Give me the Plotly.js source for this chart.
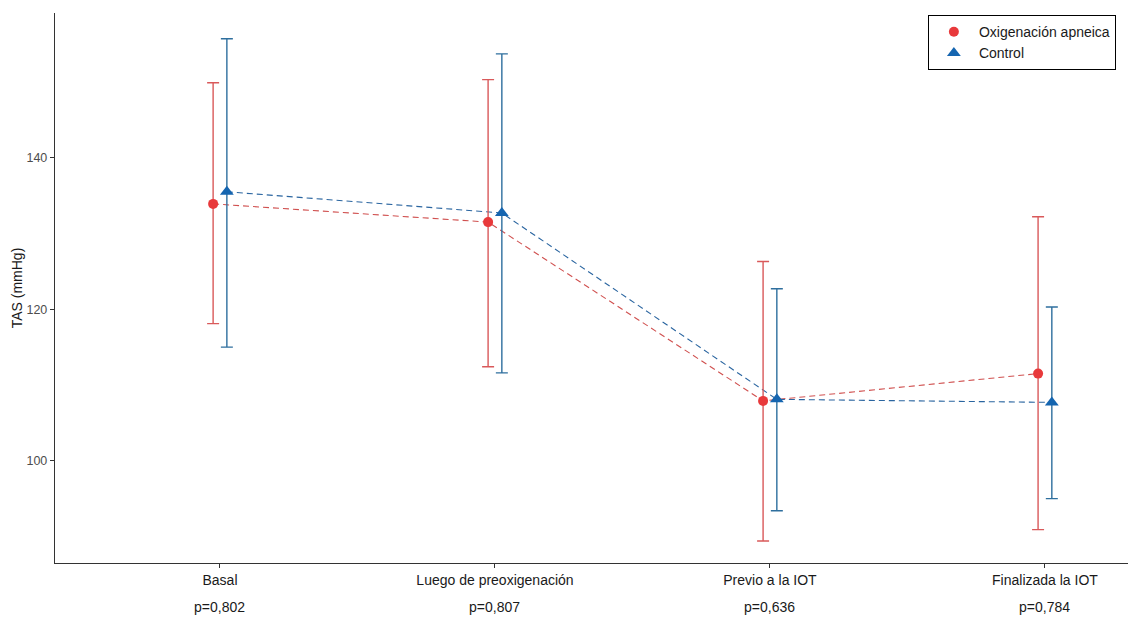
<!DOCTYPE html>
<html>
<head>
<meta charset="utf-8">
<script src="https://cdn.plot.ly/plotly-3.0.1.min.js"></script>
<style>html,body{margin:0;padding:0;background:#fff;}#chart{width:1128px;height:619px;}</style>
</head>
<body>
<div id="chart"></div>
<script>
const categories = ["Basal", "Luego de preoxigenación", "Previo a la IOT", "Finalizada la IOT"];
const pValues = ["p=0,802", "p=0,807", "p=0,636", "p=0,784"];

const oxiMean  = [133.9, 131.5, 107.9, 111.5];
const oxiLower = [118.1, 112.4, 89.4, 90.9];
const oxiUpper = [149.9, 150.3, 126.3, 132.2];

const ctrlMean  = [135.5, 132.7, 108.1, 107.7];
const ctrlLower = [115.0, 111.6, 93.4, 95.0];
const ctrlUpper = [155.7, 153.7, 122.7, 120.3];

const redC = "#E8393B", redBar = "#D9595A";
const blueC = "#1565B0", blueBar = "#2E6F9E";
const dodge = 0.025;

const idx = categories.map((c, i) => i + 1);
const xOxi = idx.map(v => v - dodge);
const xCtrl = idx.map(v => v + dodge);

const traces = [
  {x: xOxi, y: oxiMean, mode: "lines", line: {color: "#D0504F", dash: "6px,4px", width: 1.1}, showlegend: false, hoverinfo: "skip"},
  {x: xCtrl, y: ctrlMean, mode: "lines", line: {color: "#2A65A0", dash: "6px,4px", width: 1.1}, showlegend: false, hoverinfo: "skip"},
  {x: xOxi, y: oxiMean, mode: "markers", name: "Oxigenación apneica",
   marker: {symbol: "circle", size: 10, color: redC},
   error_y: {type: "data", symmetric: false,
     array: oxiUpper.map((u, i) => u - oxiMean[i]),
     arrayminus: oxiLower.map((l, i) => oxiMean[i] - l),
     color: redBar, thickness: 1.4, width: 6}},
  {x: xCtrl, y: ctrlMean, mode: "markers", name: "Control",
   marker: {symbol: "triangle-up", size: 12, color: blueC},
   error_y: {type: "data", symmetric: false,
     array: ctrlUpper.map((u, i) => u - ctrlMean[i]),
     arrayminus: ctrlLower.map((l, i) => ctrlMean[i] - l),
     color: blueBar, thickness: 1.4, width: 6}}
];

const annotations = pValues.map((p, i) => ({
  x: i + 1, xref: "x", y: 0, yref: "paper", yshift: -44, text: p, showarrow: false,
  font: {family: "Liberation Sans, Arial, sans-serif", size: 14, color: "#1a1a1a"}, xanchor: "center", yanchor: "middle"
}));

const layout = {
  width: 1128, height: 619,
  margin: {l: 55, r: 0, t: 13, b: 56},
  paper_bgcolor: "#fff", plot_bgcolor: "#fff",
  font: {family: "Liberation Sans, Arial, sans-serif", color: "#1a1a1a"},
  xaxis: {
    range: [0.4, 4.302], tickmode: "array", tickvals: idx, ticktext: categories,
    showgrid: false, zeroline: false, showline: true, linecolor: "#333", linewidth: 1.2,
    ticks: "outside", ticklen: 4, tickcolor: "#333", tickfont: {size: 14, color: "#1a1a1a"}
  },
  yaxis: {
    range: [86.5, 159.1], tickvals: [100, 120, 140],
    showgrid: false, zeroline: false, showline: true, linecolor: "#333", linewidth: 1.2,
    ticks: "outside", ticklen: 4, tickcolor: "#333", tickfont: {size: 12.5, color: "#4d4d4d"},
    title: {text: "TAS (mmHg)", font: {size: 14, color: "#1a1a1a"}, standoff: 0}
  },
  legend: {x: 0.8135, y: 0.996, xanchor: "left", yanchor: "top", bordercolor: "#000", borderwidth: 1,
    bgcolor: "#fff", font: {size: 14, color: "#1a1a1a"}, tracegroupgap: 0, itemwidth: 40},
  annotations: annotations,
  showlegend: true
};

Plotly.newPlot("chart", traces, layout, {displayModeBar: false, staticPlot: true});
</script>
</body>
</html>
